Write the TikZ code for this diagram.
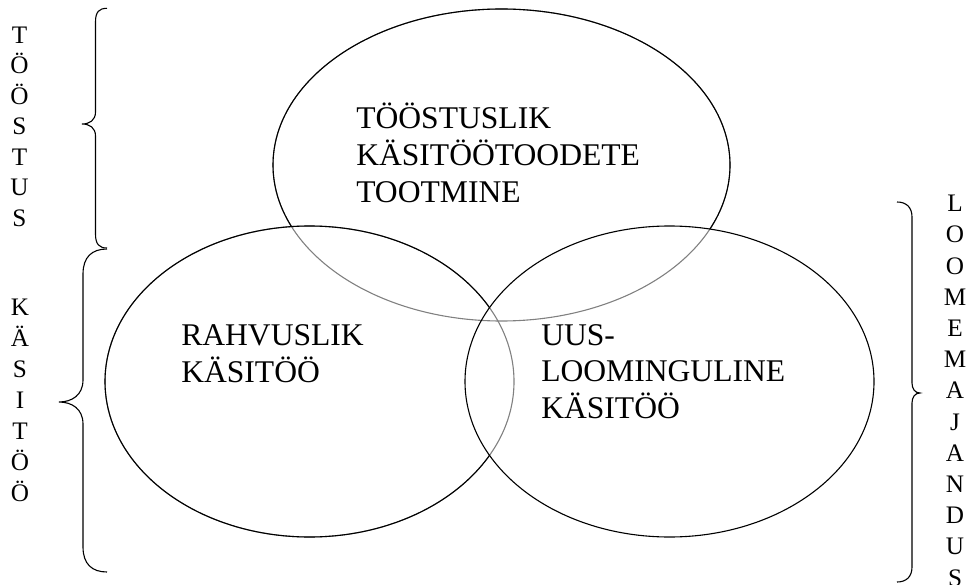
\documentclass[tikz,border=0pt]{standalone}
\usepackage{fontspec}
\setmainfont{Liberation Serif}
\begin{document}
\begin{tikzpicture}[x=1pt,y=-1pt,line width=1.1pt,
  mainlbl/.style={anchor=base west,inner sep=0pt,font=\fontsize{31.6}{36.7}\selectfont},
  sidelbl/.style={anchor=base,inner sep=0pt,font=\fontsize{25.2}{30.5}\selectfont},
  fadedline/.style={draw=black!50}]
\useasboundingbox (0,0) rectangle (968,585);
\coordinate (ct) at (501.5,165);
\coordinate (cl) at (309.5,381.5);
\coordinate (cr) at (669.5,381.5);
% top ellipse: grey where it lies inside the lower ellipses
\draw[fadedline] (ct) ellipse [x radius=228.5, y radius=156];
\begin{scope}[even odd rule]
  \clip (-10,-10) -- (-10,600) -- (980,600) -- (980,-10) -- cycle
        (cl) ellipse [x radius=204.5, y radius=155.5];
  \clip (-10,-10) -- (-10,600) -- (980,600) -- (980,-10) -- cycle
        (cr) ellipse [x radius=204.5, y radius=155.5];
  \draw (ct) ellipse [x radius=228.5, y radius=156];
\end{scope}
% left ellipse: grey where it lies inside the right ellipse
\draw[fadedline] (cl) ellipse [x radius=204.5, y radius=155.5];
\begin{scope}[even odd rule]
  \clip (-10,-10) -- (-10,600) -- (980,600) -- (980,-10) -- cycle
        (cr) ellipse [x radius=204.5, y radius=155.5];
  \draw (cl) ellipse [x radius=204.5, y radius=155.5];
\end{scope}
% right ellipse
\draw (cr) ellipse [x radius=204.5, y radius=155.5];
% labels
\node[mainlbl] (t1) at (355.7,129) {TÖÖSTUSLIK};
\node[mainlbl] (t2) at (355.7,165.7) {KÄSITÖÖTOODETE};
\node[mainlbl] (t3) at (355.7,202.3) {TOOTMINE};
\node[mainlbl] (l1) at (180.7,345) {RAHVUSLIK};
\node[mainlbl] (l2) at (180.7,382.5) {KÄSITÖÖ};
\node[mainlbl] (r1) at (540.7,345) {UUS-};
\node[mainlbl] (r2) at (540.7,381.7) {LOOMINGULINE};
\node[mainlbl] (r3) at (540.7,418.3) {KÄSITÖÖ};
% side letters
\foreach \ch [count=\i from 0] in {T,Ö,Ö,S,T,U,S}
  \node[sidelbl] (sa\i) at (19.5,43.3+30.5*\i) {\ch};
\foreach \ch [count=\i from 0] in {K,Ä,S,I,T,Ö,Ö}
  \node[sidelbl] (sb\i) at (20,315.5+31*\i) {\ch};
\foreach \ch [count=\i from 0] in {L,O,O,M,E,M,A,J,A,N,D,U,S}
  \node[sidelbl] (sc\i) at (955,211.7+31.2*\i) {\ch};
% braces
\draw (107,8.3) .. controls (99,8.3) and (95.5,12) .. (95.5,22) -- (95.5,112)
  .. controls (95.5,120) and (90,124) .. (82,124)
  .. controls (90,124) and (95.5,128) .. (95.5,136) -- (95.5,234)
  .. controls (95.5,244) and (99,248) .. (107,248);
\draw (107,249) .. controls (92,249) and (83,257) .. (83,274) -- (83,380)
  .. controls (83,395) and (72,402) .. (59,402)
  .. controls (72,402) and (83,409) .. (83,424) -- (83,547)
  .. controls (83,564) and (92,572) .. (107,572);
\draw (897,202) .. controls (906,202) and (912,207) .. (912,217) -- (912,383)
  .. controls (912,389) and (915,393) .. (920,393)
  .. controls (915,393) and (912,397) .. (912,403) -- (912,567)
  .. controls (912,577) and (906,582) .. (897,582);
\end{tikzpicture}
\end{document}
